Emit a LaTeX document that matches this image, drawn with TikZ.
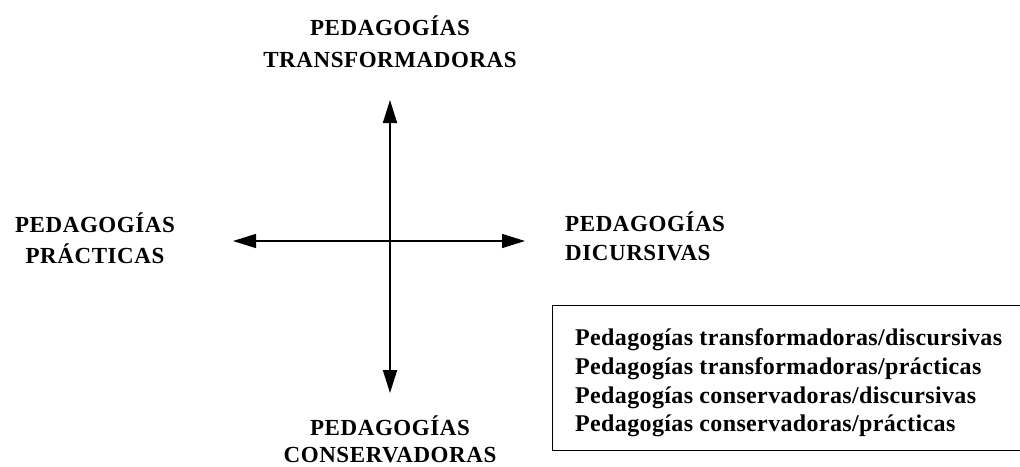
\documentclass[tikz,border=0pt]{standalone}
\usepackage{fontspec}
\setmainfont{Liberation Serif}
\newfontfamily\capsfont[LetterSpace=2.5]{Liberation Serif}
\newfontfamily\boxfont[LetterSpace=1.5]{Liberation Serif}
\usetikzlibrary{arrows.meta}
\begin{document}
\begin{tikzpicture}[x=1pt,y=-1pt,
  lbl/.style={font=\capsfont\bfseries\fontsize{23}{31}\selectfont, inner sep=0pt, anchor=base},
  item/.style={font=\boxfont\bfseries\fontsize{24}{29}\selectfont, inner sep=0pt, anchor=base west},
  axis/.style={line width=1.8pt, {Triangle[length=23pt,width=14pt]}-{Triangle[length=23pt,width=14pt]}}]
\useasboundingbox (0,0) rectangle (1020,466);
\coordinate (t) at (390,100);
\coordinate (b) at (390,393);
\coordinate (l) at (233,241);
\coordinate (r) at (525,241);
\node[lbl] (topA) at (390,35) {PEDAGOGÍAS};
\node[lbl] (topB) at (390,67) {TRANSFORMADORAS};
\node[lbl] (botA) at (390,435) {PEDAGOGÍAS};
\node[lbl] (botB) at (390,462) {CONSERVADORAS};
\node[lbl] (leftA) at (95,232) {PEDAGOGÍAS};
\node[lbl] (leftB) at (95,263) {PRÁCTICAS};
\node[lbl, anchor=base west] (rightA) at (565,231) {PEDAGOGÍAS};
\node[lbl, anchor=base west] (rightB) at (565,260) {DICURSIVAS};
\draw[axis] (b) -- (t);
\draw[axis, line width=1.4pt] (l) -- (r);
\node[draw, line width=1pt, minimum width=472pt, minimum height=145pt, anchor=north west, inner sep=0pt] (box) at (552,305) {};
\node[item] (i1) at (575,345) {Pedagogías transformadoras/discursivas};
\node[item] (i2) at (575,374) {Pedagogías transformadoras/prácticas};
\node[item] (i3) at (575,403) {Pedagogías conservadoras/discursivas};
\node[item] (i4) at (575,431) {Pedagogías conservadoras/prácticas};
\end{tikzpicture}
\end{document}
